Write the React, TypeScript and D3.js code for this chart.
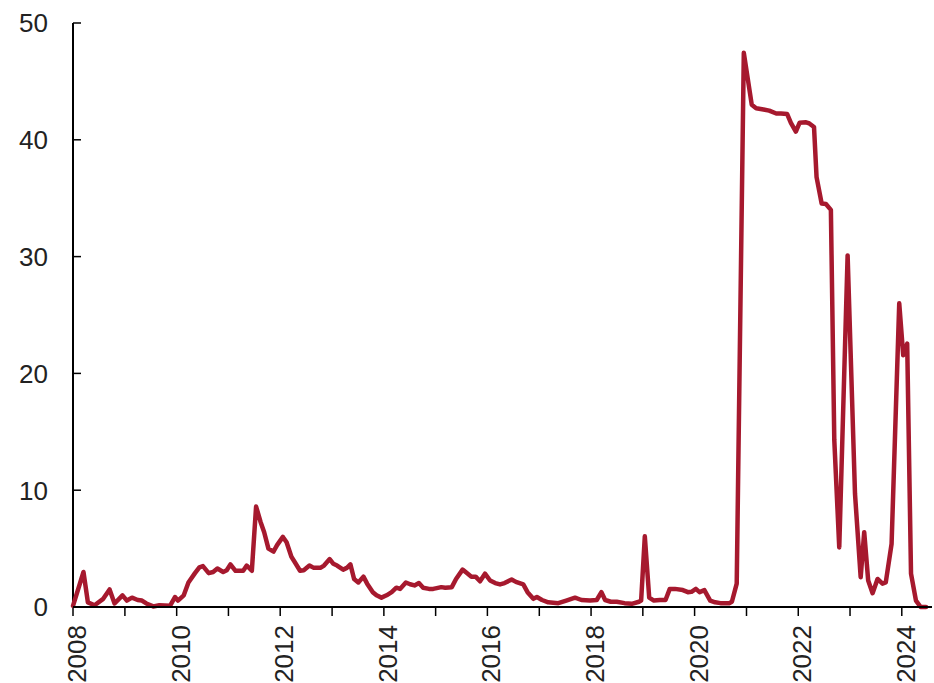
import * as d3 from "d3";

const dates = [
  "2008-01-01", "2008-03-15", "2008-04-15", "2008-06-01", "2008-08-01", "2008-09-15", "2008-10-20", "2008-12-15",
  "2009-01-15", "2009-02-20", "2009-04-01", "2009-05-01", "2009-06-01", "2009-07-20", "2009-09-01", "2009-11-15",
  "2009-12-20", "2010-01-10", "2010-02-20", "2010-03-25", "2010-05-10", "2010-06-10", "2010-07-05", "2010-08-15",
  "2010-09-15", "2010-10-15", "2010-11-25", "2010-12-20", "2011-01-15", "2011-02-20", "2011-04-15", "2011-05-10",
  "2011-06-15", "2011-07-15", "2011-08-15", "2011-09-10", "2011-10-10", "2011-11-15", "2011-12-10", "2012-01-20",
  "2012-02-15", "2012-03-20", "2012-04-10", "2012-05-20", "2012-06-15", "2012-07-25", "2012-08-25", "2012-10-10",
  "2012-11-05", "2012-12-15", "2013-01-10", "2013-02-05", "2013-03-20", "2013-04-15", "2013-05-10", "2013-06-05",
  "2013-07-05", "2013-08-10", "2013-09-05", "2013-10-15", "2013-11-10", "2013-12-15", "2014-01-20", "2014-02-25",
  "2014-03-30", "2014-04-25", "2014-06-05", "2014-07-05", "2014-08-05", "2014-09-05", "2014-10-05", "2014-11-15",
  "2014-12-15", "2015-02-10", "2015-03-10", "2015-04-25", "2015-05-25", "2015-07-10", "2015-08-05", "2015-09-10",
  "2015-10-10", "2015-11-10", "2015-12-15", "2016-01-20", "2016-02-25", "2016-03-30", "2016-05-01", "2016-06-20",
  "2016-07-20", "2016-09-10", "2016-10-10", "2016-11-20", "2016-12-15", "2017-01-20", "2017-03-05", "2017-05-15",
  "2017-07-10", "2017-09-10", "2017-10-25", "2017-12-25", "2018-02-10", "2018-03-15", "2018-04-10", "2018-05-20",
  "2018-07-01", "2018-08-25", "2018-10-15", "2018-12-05", "2018-12-20", "2019-01-15", "2019-02-15", "2019-03-20",
  "2019-05-01", "2019-06-10", "2019-07-10", "2019-08-15", "2019-10-10", "2019-11-15", "2019-12-10", "2020-01-10",
  "2020-02-05", "2020-03-10", "2020-04-20", "2020-05-25", "2020-07-01", "2020-08-10", "2020-09-01", "2020-09-20",
  "2020-10-24", "2020-12-13", "2021-02-07", "2021-03-10", "2021-05-01", "2021-06-10", "2021-07-30", "2021-09-01",
  "2021-10-15", "2021-11-10", "2021-12-15", "2022-01-10", "2022-02-25", "2022-03-20", "2022-04-22", "2022-05-10",
  "2022-06-15", "2022-07-15", "2022-08-19", "2022-09-12", "2022-10-17", "2022-12-15", "2023-02-05", "2023-03-17",
  "2023-04-11", "2023-05-09", "2023-06-09", "2023-07-14", "2023-08-18", "2023-09-10", "2023-10-21", "2023-12-14",
  "2024-01-11", "2024-02-08", "2024-03-06", "2024-04-10", "2024-05-13", "2024-06-20",
];

const values = [
  0.1, 3.0, 0.4, 0.15, 0.7, 1.5, 0.3, 1.0,
  0.55, 0.8, 0.6, 0.55, 0.3, 0.05, 0.15, 0.1,
  0.85, 0.55, 1.0, 2.1, 2.9, 3.4, 3.5, 2.9,
  3.0, 3.3, 3.0, 3.15, 3.65, 3.1, 3.1, 3.55,
  3.1, 8.6, 7.3, 6.4, 5.0, 4.75, 5.3, 6.0,
  5.55, 4.3, 3.9, 3.1, 3.15, 3.55, 3.35, 3.35,
  3.55, 4.1, 3.7, 3.55, 3.2, 3.35, 3.65, 2.4,
  2.1, 2.6, 2.0, 1.27, 1.0, 0.8, 1.0, 1.27,
  1.65, 1.55, 2.1, 1.95, 1.85, 2.05, 1.65, 1.55,
  1.55, 1.7, 1.65, 1.7, 2.4, 3.2, 2.95, 2.6,
  2.6, 2.2, 2.85, 2.27, 2.05, 1.93, 2.05, 2.35,
  2.15, 1.93, 1.27, 0.7, 0.85, 0.6, 0.4, 0.33,
  0.55, 0.8, 0.6, 0.55, 0.6, 1.27, 0.6, 0.45,
  0.45, 0.33, 0.27, 0.45, 0.55, 6.05, 0.8, 0.55,
  0.6, 0.6, 1.55, 1.55, 1.45, 1.27, 1.3, 1.55,
  1.27, 1.45, 0.55, 0.4, 0.33, 0.33, 0.33, 0.45,
  2.0, 47.45, 43.0, 42.7, 42.6, 42.5, 42.25, 42.25,
  42.2, 41.45, 40.7, 41.45, 41.5, 41.4, 41.1, 36.8,
  34.55, 34.5, 34.0, 14.3, 5.1, 30.1, 9.7, 2.55,
  6.4, 2.27, 1.18, 2.4, 2.0, 2.1, 5.4, 26.0,
  21.55, 22.55, 2.85, 0.55, 0.0, 0.0,
];

const yTicks = [0, 10, 20, 30, 40, 50];
const labelYears = [2008, 2010, 2012, 2014, 2016, 2018, 2020, 2022, 2024];

const width = 934;
const height = 683;
const margin = { top: 23, right: 2, bottom: 76, left: 73 };
const font = "'Liberation Sans', Arial, sans-serif";

export default function App() {
  const parse = d3.utcParse("%Y-%m-%d");
  const data = dates.map((d, i) => ({ date: parse(d) as Date, value: values[i] }));

  const xScale = d3
    .scaleUtc()
    .domain([new Date(Date.UTC(2008, 0, 1)), new Date(Date.UTC(2024, 7, 1))])
    .range([margin.left, width - margin.right]);

  const yScale = d3
    .scaleLinear()
    .domain([0, 50])
    .range([height - margin.bottom, margin.top]);

  const line = d3
    .line<{ date: Date; value: number }>()
    .x((d) => xScale(d.date))
    .y((d) => yScale(d.value));

  const yearTicks = d3.utcYear.range(new Date(Date.UTC(2008, 0, 1)), new Date(Date.UTC(2025, 0, 1)));
  const y0 = yScale(0);

  return (
    <svg
      width={width}
      height={height}
      style={{ position: "absolute", left: 0, top: 0, background: "white" }}
      fontFamily={font}
    >
      {/* y axis */}
      <line x1={margin.left} x2={margin.left} y1={yScale(50)} y2={y0} stroke="black" strokeWidth={2} />
      {yTicks.map((t) => (
        <g key={t}>
          <line x1={margin.left} x2={margin.left + 8} y1={yScale(t)} y2={yScale(t)} stroke="black" strokeWidth={1.5} />
          <text x={48} y={yScale(t)} dy="0.36em" textAnchor="end" fontSize={26} fill="#222">
            {t}
          </text>
        </g>
      ))}

      {/* x axis */}
      {yearTicks.map((d) => (
        <line
          key={d.getTime()}
          x1={xScale(d)}
          x2={xScale(d)}
          y1={y0}
          y2={y0 + 9}
          stroke="black"
          strokeWidth={1.5}
        />
      ))}
      {labelYears.map((yr) => {
        const x = xScale(new Date(Date.UTC(yr, 0, 1)));
        return (
          <text
            key={yr}
            transform={`translate(${x}, 625) rotate(-90)`}
            dy={13}
            textAnchor="end"
            fontSize={26}
            fill="#222"
          >
            {yr}
          </text>
        );
      })}

      <path
        d={line(data) ?? ""}
        fill="none"
        stroke="#a6192e"
        strokeWidth={4.5}
        strokeLinejoin="round"
        strokeLinecap="round"
      />
      <line x1={margin.left} x2={width - margin.right} y1={y0} y2={y0} stroke="black" strokeWidth={2} />
    </svg>
  );
}
